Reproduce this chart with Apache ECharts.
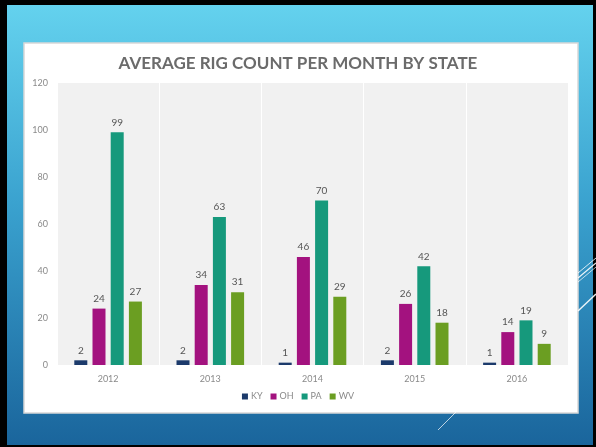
<!DOCTYPE html>
<html>
<head>
<meta charset="utf-8">
<script src="https://cdn.jsdelivr.net/npm/echarts@6/dist/echarts.min.js"></script>
<style>
  html, body { margin: 0; padding: 0; background: #000; }
  #main { width: 596px; height: 447px; }
</style>
</head>
<body>
<div id="main"></div>
<script>
// chart data
var years = ['2012', '2013', '2014', '2015', '2016'];
var ky = [2, 2, 1, 2, 1];
var oh = [24, 34, 46, 26, 14];
var pa = [99, 63, 70, 42, 19];
var wv = [27, 31, 29, 18, 9];
var yTicks = [0, 20, 40, 60, 80, 100, 120];

var seriesNames = ['KY', 'OH', 'PA', 'WV'];
var seriesColors = ['#1c3a6b', '#a3127f', '#16997c', '#6b9e22'];
var seriesData = [ky, oh, pa, wv];

var myChart = echarts.init(document.getElementById('main'));

function line(x1, y1, x2, y2, w, op) {
    return {
        type: 'line', silent: true,
        shape: { x1: x1, y1: y1, x2: x2, y2: y2 },
        style: { stroke: '#ffffff', lineWidth: w, opacity: op }
    };
}

myChart.setOption({
    backgroundColor: '#000',
    textStyle: { fontFamily: 'Lato, sans-serif' },
    graphic: [
        // slide background
        {
            type: 'rect', z: -10, silent: true,
            shape: { x: 7, y: 5, width: 586, height: 440 },
            style: {
                fill: new echarts.graphic.LinearGradient(0, 0, 0, 1, [
                    { offset: 0, color: '#64d2ee' },
                    { offset: 0.45, color: '#3aa2cf' },
                    { offset: 1, color: '#1a659c' }
                ])
            }
        },
        // chart panel
        {
            type: 'rect', z: -9, silent: true,
            shape: { x: 24, y: 43, width: 554, height: 370 },
            style: { fill: '#ffffff', stroke: '#d8d8d8', lineWidth: 1.5 }
        },
        line(578, 273, 596, 258, 1, 0.8),
        line(578, 278, 596, 263, 1.2, 0.9),
        line(578, 282, 596, 267, 1, 0.7),
        line(578, 311, 596, 294, 1.5, 0.9),
        line(438, 430, 456, 412, 1, 0.7)
    ],
    title: {
        text: 'AVERAGE RIG COUNT PER MONTH BY STATE',
        left: 'center',
        top: 50,
        textStyle: { color: '#6b6b6b', fontSize: 17, fontWeight: 'bold', fontFamily: 'Lato, sans-serif' }
    },
    legend: {
        bottom: 41,
        left: 'center',
        itemWidth: 6,
        itemHeight: 6,
        itemGap: 8,
        icon: 'rect',
        textStyle: { color: '#8a8a8a', fontSize: 9, padding: [0, 0, 0, -2] },
        data: seriesNames
    },
    grid: {
        left: 57, right: 28, top: 83, bottom: 82,
        show: true,
        backgroundColor: '#f1f1f1',
        borderWidth: 0
    },
    xAxis: {
        type: 'category',
        data: years,
        axisLine: { show: false },
        axisTick: { show: false },
        axisLabel: { color: '#8a8a8a', fontSize: 9, margin: 10 },
        splitLine: { show: true, lineStyle: { color: '#ffffff', width: 1 } }
    },
    yAxis: {
        type: 'value',
        min: yTicks[0],
        max: yTicks[yTicks.length - 1],
        interval: 20,
        axisLine: { show: false },
        axisTick: { show: false },
        splitLine: { show: false },
        axisLabel: { color: '#8a8a8a', fontSize: 9, margin: 9 }
    },
    series: seriesNames.map(function (name, i) {
        return {
            name: name,
            type: 'bar',
            data: seriesData[i],
            barWidth: 13,
            barGap: '40%',
            itemStyle: { color: seriesColors[i] },
            label: {
                show: true,
                position: 'top',
                distance: 5,
                color: '#555555',
                fontSize: 10
            }
        };
    })
});
</script>
</body>
</html>
